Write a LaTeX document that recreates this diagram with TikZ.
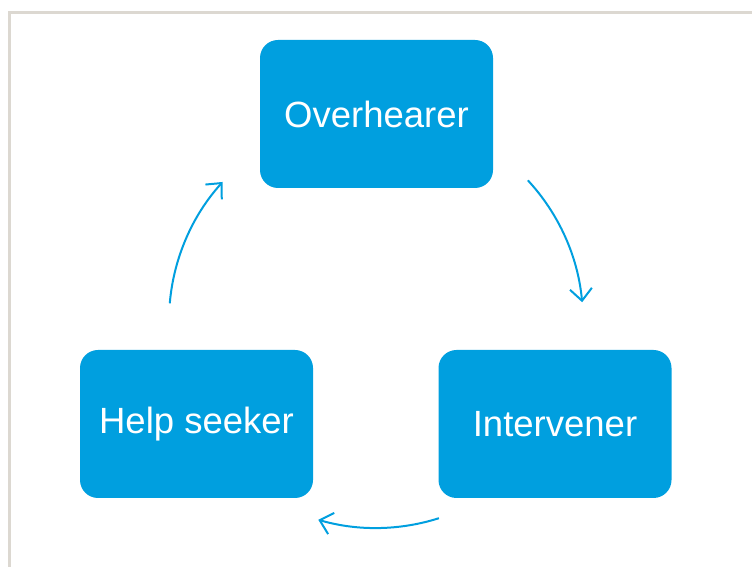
\documentclass[tikz,border=0pt]{standalone}
\usepackage{fontspec}
\setmainfont{Liberation Sans}
\usetikzlibrary{arrows.meta}
\definecolor{cycleblue}{HTML}{009FDF}
\definecolor{framegray}{HTML}{DCD8D1}

\begin{document}
\begin{tikzpicture}[x=1pt,y=1pt,line width=2pt,
    >={Straight Barb[length=12pt,width=22pt]},
    stage/.style={fill=cycleblue,rounded corners=18pt,minimum width=233pt,
      minimum height=148pt,text=white,font=\fontsize{36.5}{40}\selectfont}]
      \useasboundingbox (0,0) rectangle (752,567);
      \draw[framegray,line width=3pt] (9,0) -- (9,554) -- (752,554);
      \coordinate (mid) at (376,246);
      \node[stage] (over) at (376.5,453) {Overhearer};
      \node[stage] (help) at (196.5,143) {Help seeker};
      \node[stage] (inter) at (555,143) {Intervener};
      \draw[->,cycleblue] ([shift={(42.8:207)}]mid) arc (42.8:5.2:207);
      \draw[->,cycleblue] ([shift={(-72.3:207)}]mid) arc (-72.3:-106.2:207);
      \draw[->,cycleblue] ([shift={(175.1:207)}]mid) arc (175.1:137.8:207);
    \end{tikzpicture}
\end{document}
